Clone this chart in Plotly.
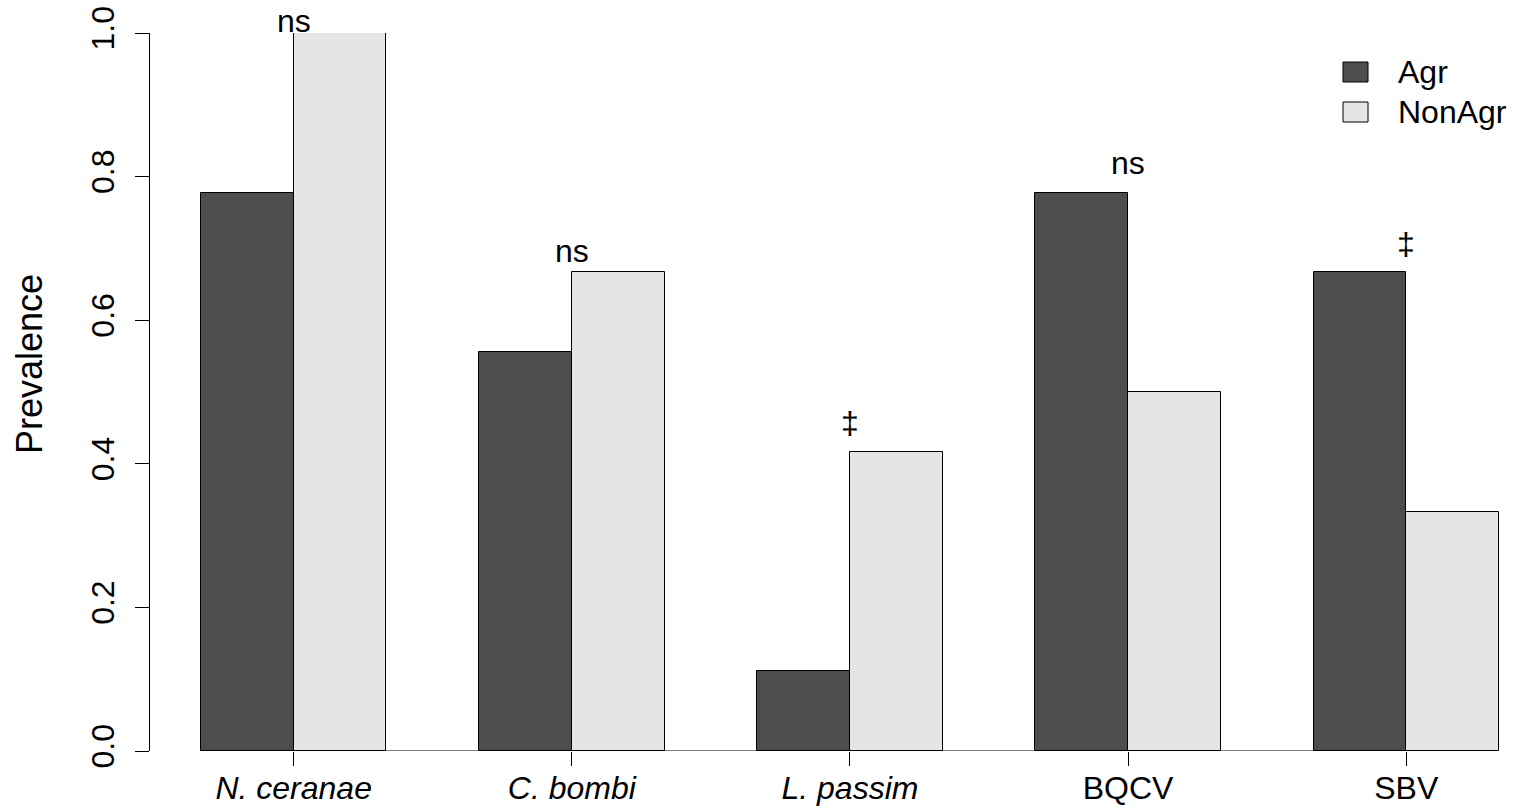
import plotly.graph_objects as go

# Prevalence of each pathogen in agricultural vs non-agricultural sites
pathogens = ["<i>N. ceranae</i>", "<i>C. bombi</i>", "<i>L. passim</i>", "BQCV", "SBV"]
agr = [7 / 9, 5 / 9, 1 / 9, 7 / 9, 6 / 9]
non_agr = [12 / 12, 8 / 12, 5 / 12, 6 / 12, 4 / 12]

# Significance markers and their heights above each group
sig_labels = ["ns", "ns", "\u2021", "ns", "\u2021"]
sig_heights = [1.017, 0.696, 0.457, 0.819, 0.706]

y_ticks = [0.0, 0.2, 0.4, 0.6, 0.8, 1.0]

FONT = "Liberation Sans, Arial, Helvetica, sans-serif"
FS = 32
AGR_COLOR = "#4d4d4d"
NON_COLOR = "#e5e5e5"

# barplot(beside=TRUE) layout: bars of width 1, one empty unit between groups
n = len(pathogens)
agr_x = [1.5 + 3 * i for i in range(n)]
non_x = [2.5 + 3 * i for i in range(n)]
centers = [2 + 3 * i for i in range(n)]

fig = go.Figure()
fig.add_trace(go.Bar(
    x=agr_x, y=agr, width=1, name="Agr",
    marker=dict(color=AGR_COLOR, line=dict(color="black", width=1)),
    showlegend=False,
))
fig.add_trace(go.Bar(
    x=non_x, y=non_agr, width=1, name="NonAgr",
    marker=dict(color=NON_COLOR, line=dict(color="black", width=1)),
    showlegend=False,
))

# x axis line spans from the first to the last group centre
fig.add_shape(type="line", xref="x", yref="y",
              x0=centers[0], x1=centers[-1], y0=0, y1=0,
              line=dict(color="black", width=1))

annotations = []
# the y range is [0, 1], so "y domain" coordinates equal data values and
# labels placed just above 1.0 are still drawn
for cx, lab, h in zip(centers, sig_labels, sig_heights):
    annotations.append(dict(
        x=cx, y=h, xref="x", yref="y domain", text=lab, showarrow=False,
        xanchor="center", yanchor="middle",
        font=dict(family=FONT, size=FS, color="black"),
    ))

# legend: filled boxes with labels in the top-right corner
PLOT_W, PLOT_H, L, T = 1372, 718, 150, 33
legend_items = [("Agr", AGR_COLOR), ("NonAgr", NON_COLOR)]
for k, (lab, col) in enumerate(legend_items):
    top = 62 + 40 * k
    fig.add_shape(type="rect", xref="paper", yref="paper",
                  x0=(1343 - L) / PLOT_W, x1=(1368 - L) / PLOT_W,
                  y0=(T + PLOT_H - (top + 20)) / PLOT_H,
                  y1=(T + PLOT_H - top) / PLOT_H,
                  fillcolor=col, line=dict(color="black", width=1))
    annotations.append(dict(
        x=(1396 - L) / PLOT_W, y=(T + PLOT_H - (top + 10)) / PLOT_H,
        xref="paper", yref="paper", text=lab, showarrow=False,
        xanchor="left", yanchor="middle",
        font=dict(family=FONT, size=FS, color="black"),
    ))

# y axis title
annotations.append(dict(
    x=(29 - L) / PLOT_W, y=(T + PLOT_H - 364) / PLOT_H,
    xref="paper", yref="paper",
    text="Prevalence", textangle=-90, showarrow=False,
    xanchor="center", yanchor="middle",
    font=dict(family=FONT, size=36, color="black"),
))

fig.update_layout(
    width=1522, height=812,
    margin=dict(l=L, r=0, t=T, b=812 - T - PLOT_H, pad=0),
    paper_bgcolor="white", plot_bgcolor="white",
    barmode="overlay", bargap=0,
    font=dict(family=FONT, size=FS, color="black"),
    annotations=annotations,
    xaxis=dict(
        range=[0.45, 15.249], showgrid=False, zeroline=False, showline=False,
        tickmode="array", tickvals=centers, ticktext=pathogens,
        ticks="outside", ticklen=14, tickwidth=1, tickcolor="black",
        ticklabelstandoff=-5,
        tickfont=dict(family=FONT, size=FS, color="black"),
    ),
    yaxis=dict(
        range=[0, 1], showgrid=False, zeroline=False,
        showline=True, linecolor="black", linewidth=1,
        tickmode="array", tickvals=y_ticks,
        ticktext=[f"{v:.1f}" for v in y_ticks],
        ticks="outside", ticklen=14, tickwidth=1, tickcolor="black",
        tickangle=-90, ticklabelstandoff=8,
        tickfont=dict(family=FONT, size=FS, color="black"),
    ),
)

fig.write_html("out.html")
